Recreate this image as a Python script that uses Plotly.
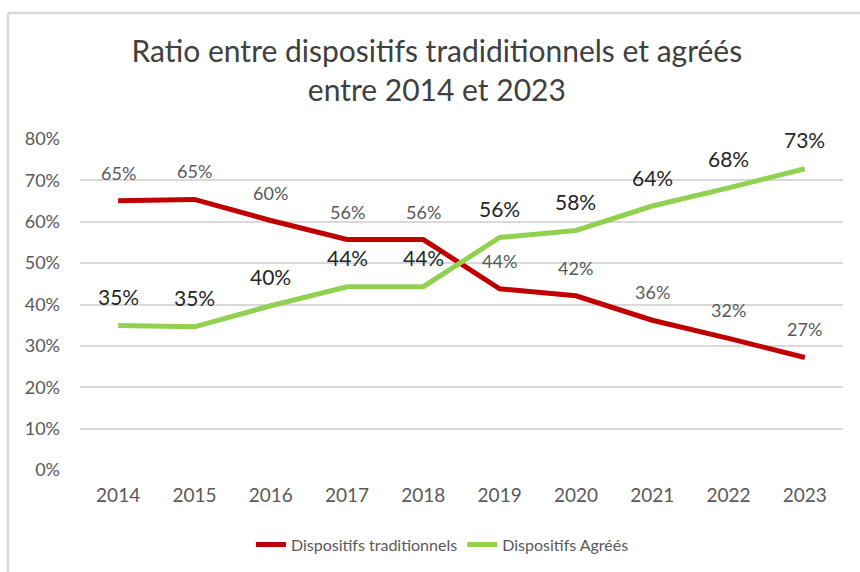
import plotly.graph_objects as go

years = ["2014", "2015", "2016", "2017", "2018", "2019", "2020", "2021", "2022", "2023"]
traditionnels = [0.651, 0.654, 0.603, 0.557, 0.557, 0.438, 0.421, 0.362, 0.318, 0.272]
agrees = [0.349, 0.346, 0.397, 0.443, 0.443, 0.562, 0.579, 0.638, 0.682, 0.728]
y_ticks = [0, 0.1, 0.2, 0.3, 0.4, 0.5, 0.6, 0.7, 0.8]
y_tick_labels = ["0%", "10%", "20%", "30%", "40%", "50%", "60%", "70%", "80%"]

RED = "#C00000"
GREEN = "#92D050"
FONT = "Lato"

fig = go.Figure()
fig.add_trace(go.Scatter(x=years, y=traditionnels, mode="lines", name="Dispositifs traditionnels",
                         line=dict(color=RED, width=5), hoverinfo="skip"))
fig.add_trace(go.Scatter(x=years, y=agrees, mode="lines", name="Dispositifs Agréés",
                         line=dict(color=GREEN, width=5), hoverinfo="skip"))

annotations = []
for i, v in enumerate(traditionnels):
    annotations.append(dict(x=i, y=v, xref="x", yref="y", text=f"{round(v*100)}%", showarrow=False,
                            yshift=28, font=dict(family=FONT, size=18, color="#595959")))
for i, v in enumerate(agrees):
    annotations.append(dict(x=i, y=v, xref="x", yref="y", text=f"{round(v*100)}%", showarrow=False,
                            yshift=29, font=dict(family=FONT, size=21, color="#262626")))

fig.update_layout(
    width=860, height=572,
    margin=dict(l=80, r=17, t=139, b=101),
    paper_bgcolor="white", plot_bgcolor="white",
    font=dict(family=FONT, color="#595959"),
    title=dict(text="Ratio entre dispositifs tradiditionnels et agréés<br>entre 2014 et 2023",
               x=0.508, xanchor="center", y=1 - 62 / 572, yanchor="middle", yref="container",
               font=dict(family=FONT, size=30, color="#404040")),
    xaxis=dict(type="category", range=[-0.5, 9.5], showgrid=False, showline=False, ticks="",
               ticklabelstandoff=12,
               tickfont=dict(family=FONT, size=19, color="#595959")),
    yaxis=dict(range=[0, 0.8], tickvals=y_ticks, ticktext=y_tick_labels, showgrid=True,
               gridcolor="#D9D9D9", gridwidth=1.5, zeroline=False, showline=False, ticks="",
               ticklabelstandoff=19,
               tickfont=dict(family=FONT, size=18, color="#595959")),
    legend=dict(orientation="h", x=0.475, xanchor="center", y=-0.222, yanchor="middle",
                font=dict(family=FONT, size=16, color="#595959")),
    showlegend=True,
    annotations=annotations,
    shapes=[
        dict(type="line", xref="paper", yref="paper", x0=-0.0944, x1=1.03, y0=1.381, y1=1.381,
             line=dict(color="#D9D9D9", width=2.5)),
        dict(type="line", xref="paper", yref="paper", x0=-0.0944, x1=-0.0944, y0=1.381, y1=-0.32,
             line=dict(color="#D9D9D9", width=2.5)),
    ],
)

fig.write_html("out.html", config={"displayModeBar": False},
               post_script="document.body.style.margin='0px';document.body.style.overflow='hidden';")
